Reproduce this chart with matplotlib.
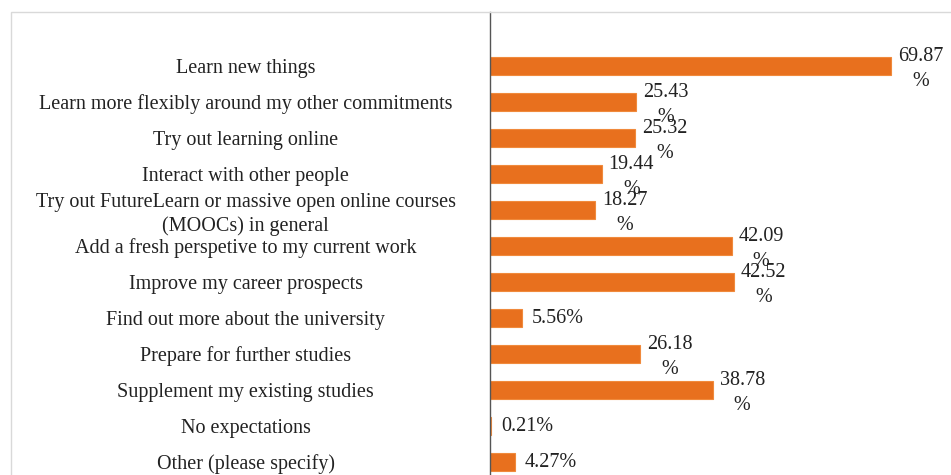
import matplotlib.pyplot as plt
from matplotlib.patches import Rectangle

# Reasons / expectations and percentage of respondents
categories = [
    "Learn new things",
    "Learn more flexibly around my other commitments",
    "Try out learning online",
    "Interact with other people",
    "Try out FutureLearn or massive open online courses\n(MOOCs) in general",
    "Add a fresh perspetive to my current work",
    "Improve my career prospects",
    "Find out more about the university",
    "Prepare for further studies",
    "Supplement my existing studies",
    "No expectations",
    "Other (please specify)",
]
values = [69.87, 25.43, 25.32, 19.44, 18.27, 42.09, 42.52, 5.56, 26.18, 38.78, 0.21, 4.27]

bar_color = "#E8701E"
text_color = "#222222"
serif = ["Liberation Serif", "DejaVu Serif"]

fig = plt.figure(figsize=(9.51, 4.75), dpi=100)
W, H = 951, 475

# light frame around the chart area (cut off at right and bottom)
fig.patches.append(Rectangle((11 / W, -0.05), 1.05, 1.05 - 12 / H,
                             transform=fig.transFigure, fill=False,
                             edgecolor="#d9d9d9", linewidth=1.0))

ax = fig.add_axes([490 / W, 0, 450 / W, 463 / H])
y = list(range(len(categories)))
ax.barh(y, values, height=0.48, color=bar_color, edgecolor="#F08A3C", linewidth=0.8)

ax.set_xlim(0, 78.4)
ax.set_ylim(11.36, -1.5)

ax.set_yticks(y)
ax.set_yticklabels(categories, ha="center", fontfamily=serif, fontsize=14.5,
                   color=text_color, linespacing=1.3)
ax.tick_params(axis="y", length=0, pad=176)
ax.set_xticks([])

for s in ["top", "right", "bottom"]:
    ax.spines[s].set_visible(False)
ax.spines["left"].set_color("#555555")
ax.spines["left"].set_linewidth(1.0)

for yi, v in zip(y, values):
    if v >= 10:
        label = f"{v:.2f}\n%"
        off = (5, -2)
    else:
        label = f"{v:.2f}%"
        off = (7, 0)
    ax.annotate(label, xy=(v, yi), xytext=off, textcoords="offset points",
                ha="left", va="center", multialignment="center",
                fontfamily=serif, fontsize=14.5, color=text_color, linespacing=1.4)

fig.savefig("out.png", dpi=100)
